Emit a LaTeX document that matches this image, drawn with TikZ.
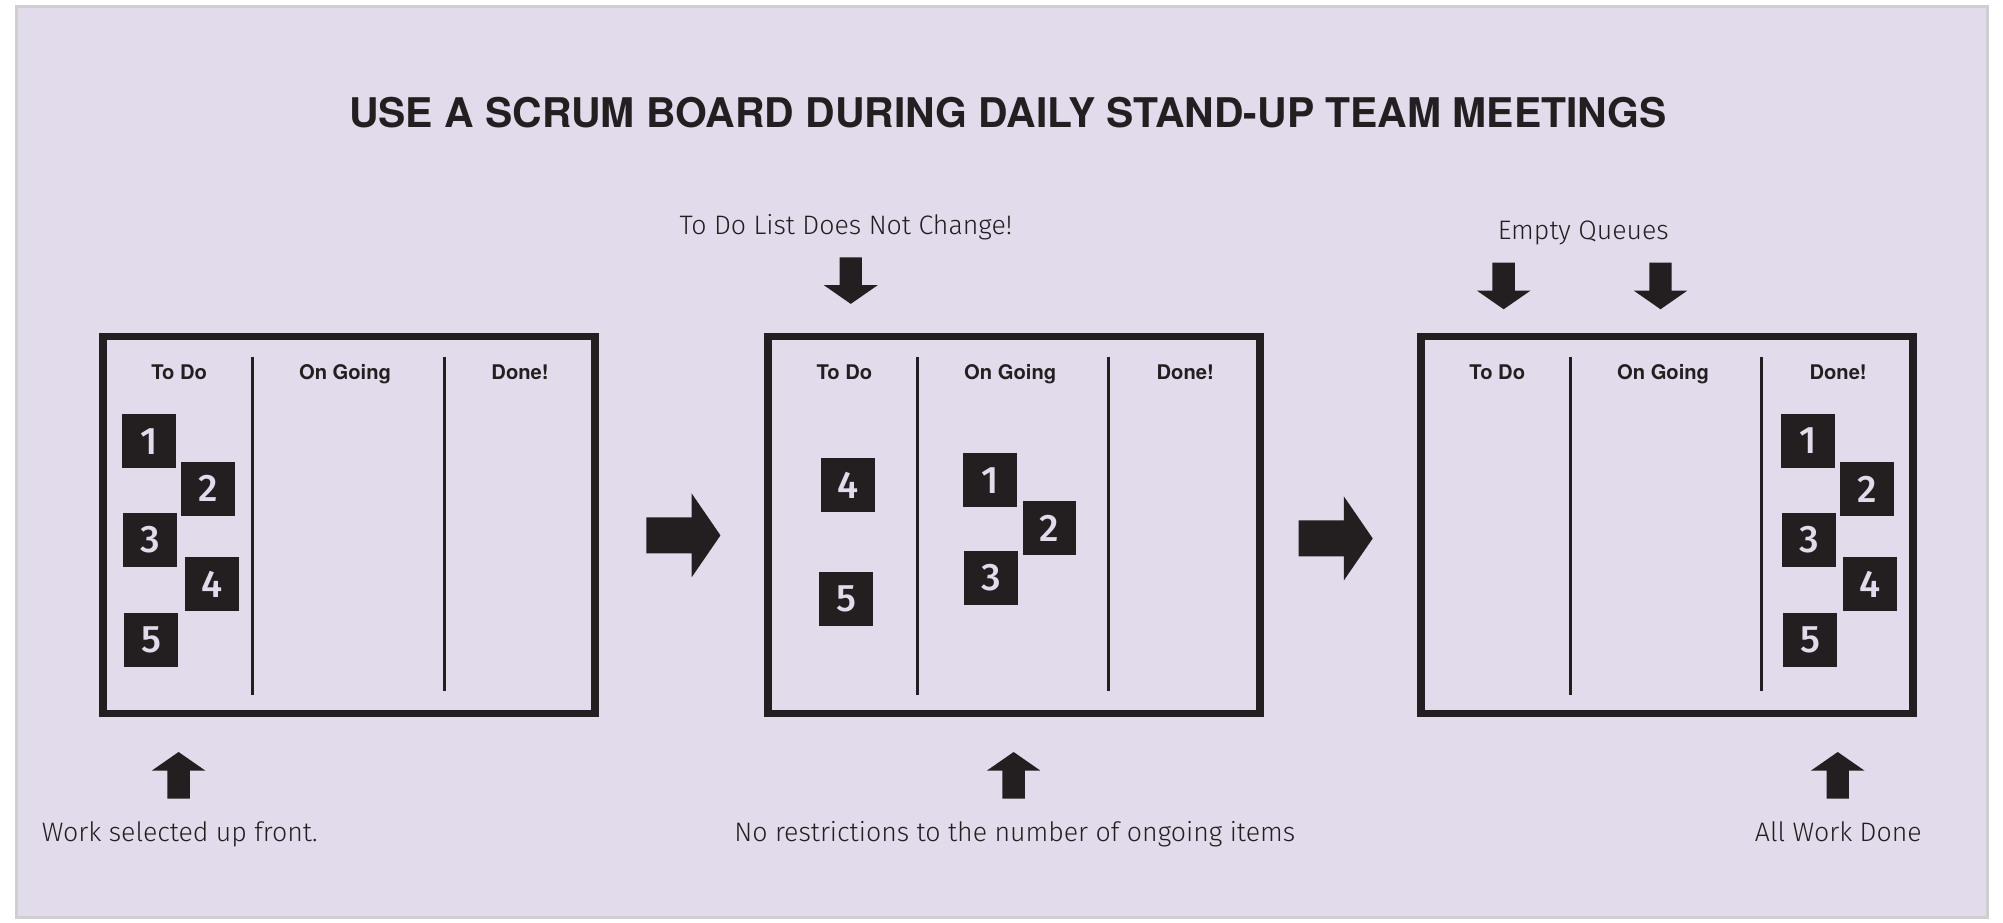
\documentclass[tikz,border=0pt]{standalone}
\usepackage{fontspec}
\newfontfamily\headfont{TeX Gyre Heros}
\newfontfamily\lightfont{Fira Sans Light}
\newfontfamily\cardfont{Fira Sans Medium}
\usepackage{tikz}
\usetikzlibrary{positioning,calc}
\definecolor{lavender}{HTML}{E1DBEB}
\definecolor{ink}{HTML}{231F20}
\definecolor{edge}{HTML}{CFCFCF}
\tikzset{
  board/.style={draw=ink, line width=3pt, minimum width=192.7pt, minimum height=147.5pt, inner sep=0pt},
  column/.style={font=\headfont\bfseries\fontsize{7.9}{9}\selectfont, text=ink, anchor=base, inner sep=0pt},
  card/.style={fill=ink, text=lavender, minimum size=21pt, inner sep=0pt, font=\cardfont\fontsize{15}{16}\selectfont},
  note/.style={font=\lightfont\fontsize{10.45}{12}\selectfont, text=ink, anchor=base, inner sep=0pt},
  divider/.style={draw=ink, line width=1.15pt},
  blockup/.pic={\fill[ink] (0,0) -- (21,-14.6) -- (8.75,-14.6) -- (8.75,-36.5) -- (-8.75,-36.5) -- (-8.75,-14.6) -- (-21,-14.6) -- cycle;},
  blockright/.pic={\fill[ink] (0,0) -- (-22.6,32.9) -- (-22.6,14.1) -- (-58,14.1) -- (-58,-14.1) -- (-22.6,-14.1) -- (-22.6,-32.9) -- cycle;}
}
\begin{document}
\begin{tikzpicture}[x=0.5pt, y=0.5pt]
  \useasboundingbox (0,0) rectangle (1568,722);
  \filldraw[fill=lavender, draw=edge, line width=1.2pt] (13,4) rectangle (1556,717);
  \node[font=\headfont\bfseries\fontsize{16}{18}\selectfont, text=ink, anchor=base, inner sep=0pt] (title) at (789,622) {USE A SCRUM BOARD DURING DAILY STAND-UP TEAM MEETINGS};

  % boards
  \node[board] (board1) at (273.3,311) {};
  \node[board] (board2) at (793.8,311) {};
  \node[board] (board3) at (1305,311) {};

  \node[column] (todo1) at (140.3,425) {To Do};
  \node[column] (going1) at (270.1,425) {On Going};
  \node[column] (done1) at (407.1,425) {Done!};
  \node[column] (todo2) at (661,425) {To Do};
  \node[column] (going2) at (790.8,425) {On Going};
  \node[column] (done2) at (927.8,425) {Done!};
  \node[column] (todo3) at (1172.1,425) {To Do};
  \node[column] (going3) at (1301.9,425) {On Going};
  \node[column] (done3) at (1438.9,425) {Done!};

  \draw[divider] (197.8,442.7) -- (197.8,178.1);
  \draw[divider] (347.8,442.7) -- (347.8,181.2);
  \draw[divider] (718.2,442.7) -- (718.2,178.1);
  \draw[divider] (868.1,442.7) -- (868.1,181.2);
  \draw[divider] (1229.3,442.7) -- (1229.3,178.1);
  \draw[divider] (1379.2,442.7) -- (1379.2,181.2);

  % cards
  \node[card] (c11) at (116.5,376.6) {1};
  \node[card] (c12) at (162.7,339.3) {2};
  \node[card] (c13) at (117.4,299.2) {3};
  \node[card] (c14) at (165.8,264.8) {4};
  \node[card] (c15) at (118.3,220.9) {5};
  \node[card] (c24) at (664,342.2) {4};
  \node[card] (c25) at (662.4,253) {5};
  \node[card] (c21) at (775.1,346.1) {1};
  \node[card] (c22) at (821.5,308.7) {2};
  \node[card] (c23) at (776,269.6) {3};
  \node[card] (c31) at (1415.4,376.8) {1};
  \node[card] (c32) at (1461.6,339.2) {2};
  \node[card] (c33) at (1416.2,299.4) {3};
  \node[card] (c34) at (1464.1,264.9) {4};
  \node[card] (c35) at (1416.9,221.2) {5};

  % notes
  \node[note] (fixed) at (662.2,538.6) {To Do List Does Not Change!};
  \node[note] (empty) at (1239.4,534.4) {Empty Queues};
  \node[note] (selected) at (140.7,63) {Work selected up front.};
  \node[note] (unlimited) at (794.4,63) {No restrictions to the number of ongoing items};
  \node[note] (finished) at (1439.1,63) {All Work Done};

  \pic at (139.8,133.3) {blockup};
  \pic at (793.5,133.3) {blockup};
  \pic at (1438.6,133.3) {blockup};
  \pic[rotate=180] at (666,484.1) {blockup};
  \pic[rotate=180] at (1177.1,479.9) {blockup};
  \pic[rotate=180] at (1299.9,479.9) {blockup};
  \pic at (564,302.9) {blockright};
  \pic at (1074.6,300.5) {blockright};
\end{tikzpicture}
\end{document}
